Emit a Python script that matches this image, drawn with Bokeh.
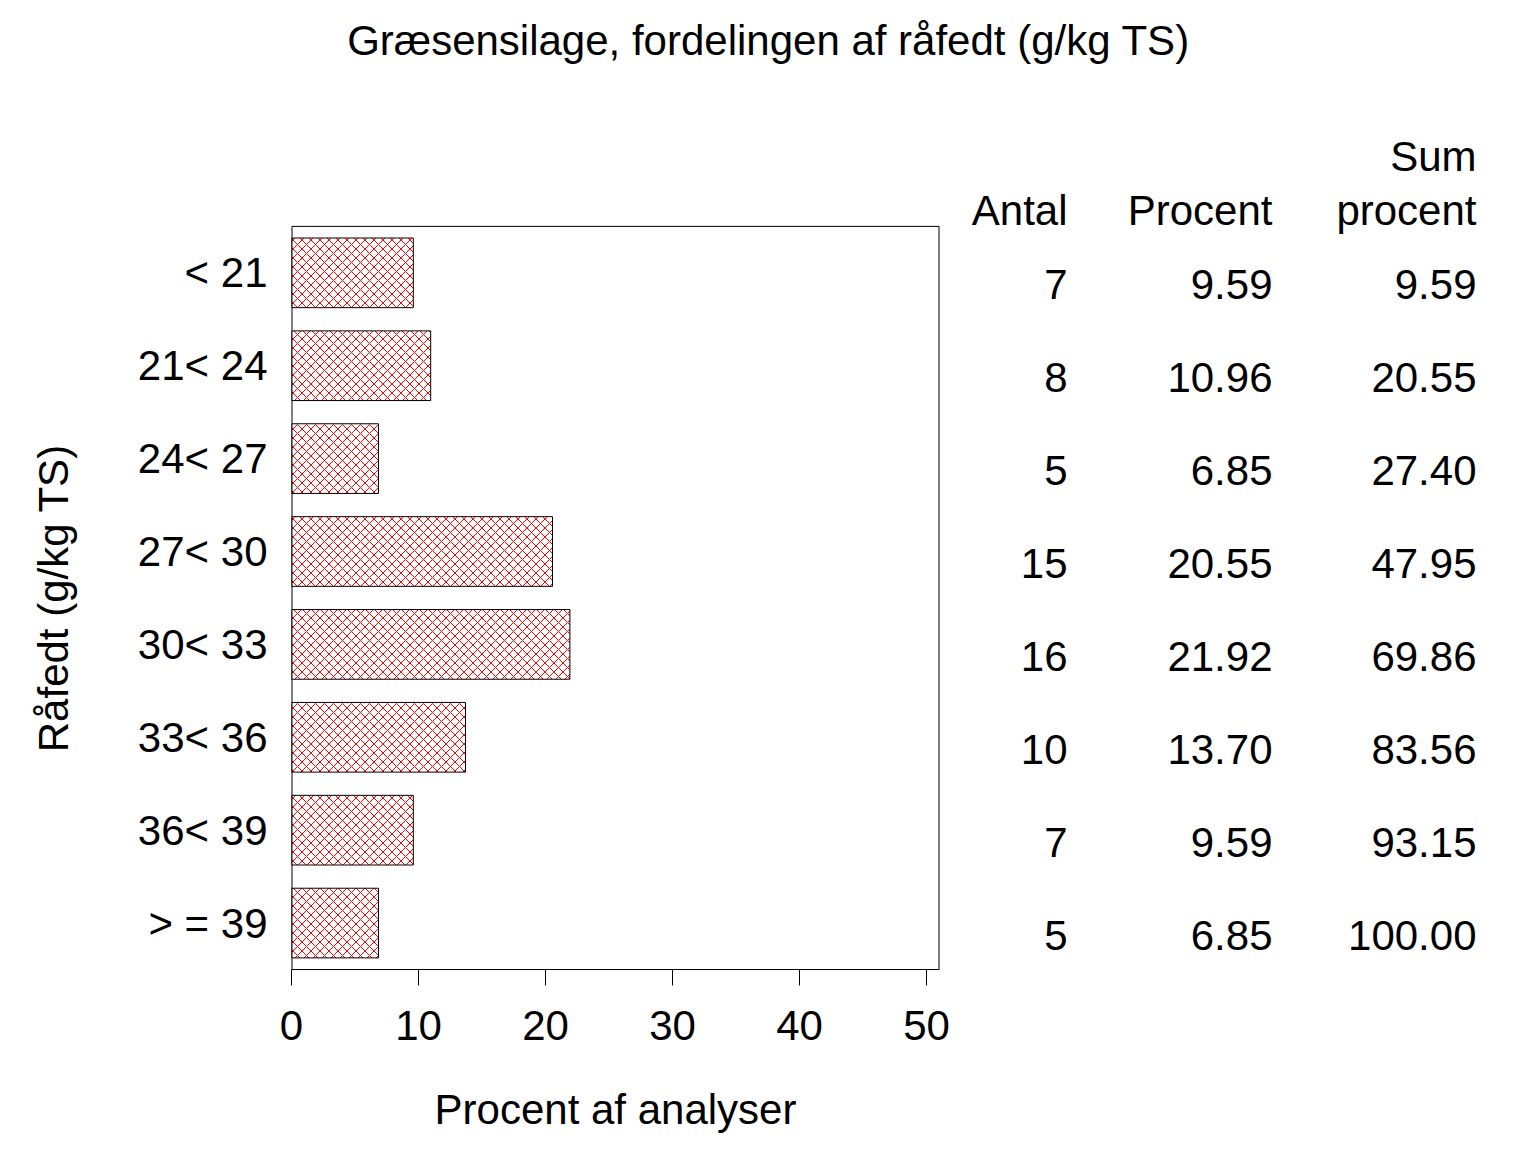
from bokeh.plotting import figure
from bokeh.layouts import column, row
from bokeh.models import FactorRange, Range1d, FixedTicker, ColumnDataSource
from bokeh.core.properties import value
from bokeh.embed import file_html
from bokeh.resources import INLINE

# ---- data ----
categories = ["< 21", "21< 24", "24< 27", "27< 30", "30< 33", "33< 36", "36< 39", "> = 39"]
antal = [7, 8, 5, 15, 16, 10, 7, 5]
procent = [9.59, 10.96, 6.85, 20.55, 21.92, 13.70, 9.59, 6.85]
sum_procent = [9.59, 20.55, 27.40, 47.95, 69.86, 83.56, 93.15, 100.00]
x_ticks = [0, 10, 20, 30, 40, 50]
header_line1 = ["", "", "Sum"]
header_line2 = ["Antal", "Procent", "procent"]
title_text = "Græsensilage, fordelingen af råfedt (g/kg TS)"
y_label = "Råfedt (g/kg TS)"

FONT = "Liberation Sans"
FS = "42px"

# ---- layout constants (pixels) ----
W_TOTAL = 1530
H_TITLE = 100
H_MAIN = 1050
W_A = 960
W_B = W_TOTAL - W_A
FR_LEFT, FR_RIGHT = 291, 939          # bar frame, page x
FR_BOTTOM = 969                       # bar frame bottom, page y
n = len(categories)
X_MAX = 51.02
ROW_PX = 92.9
FR_TOP = FR_BOTTOM - (n + 1) * ROW_PX   # frame incl. one header band

# ---- title strip ----
t = figure(width=W_TOTAL, height=H_TITLE, x_range=Range1d(0, W_TOTAL),
           y_range=Range1d(0, H_TITLE), output_backend="svg",
           toolbar_location=None, x_axis_location=None, y_axis_location=None,
           min_border_left=0, min_border_right=0, min_border_top=0,
           min_border_bottom=0)
t.outline_line_color = None
t.xgrid.visible = False
t.ygrid.visible = False
t.text(x=[768], y=[H_TITLE - 40], text=[title_text], text_font=value(FONT),
       text_font_size=FS, text_align="center", text_baseline="middle",
       text_color="black")

# ---- bar chart ----
a = figure(width=W_A, height=H_MAIN,
           y_range=FactorRange(factors=categories[::-1] + [""]),
           x_range=Range1d(0, X_MAX),
           output_backend="svg", toolbar_location=None,
           min_border_left=FR_LEFT, min_border_right=W_A - FR_RIGHT,
           min_border_top=int(round(FR_TOP)) - H_TITLE,
           min_border_bottom=H_TITLE + H_MAIN - FR_BOTTOM)
a.outline_line_color = None
a.xgrid.visible = False
a.ygrid.visible = False

src = ColumnDataSource(dict(cat=categories, pct=procent))
a.hbar(y="cat", right="pct", left=0, height=0.75, source=src,
       fill_color="white", line_color="black", line_width=1,
       hatch_pattern="diagonal_cross", hatch_color="red",
       hatch_scale=9, hatch_weight=1)

# box around the bar area (bottom edge is the x axis line)
a.segment(x0=[0, X_MAX], y0=[0, 0], x1=[0, X_MAX], y1=[n, n],
          line_color="black", line_width=2)
a.segment(x0=[0], y0=[n], x1=[X_MAX], y1=[n], line_color="black", line_width=1)

xa = a.xaxis[0]
xa.ticker = FixedTicker(ticks=x_ticks)
xa.minor_tick_line_color = None
xa.major_tick_out = 16
xa.major_tick_in = 0
xa.major_tick_line_color = "black"
xa.major_label_text_font = FONT
xa.major_label_text_font_size = FS
xa.major_label_text_color = "black"
xa.major_label_standoff = 25
xa.axis_label = "Procent af analyser"
xa.axis_label_text_font = FONT
xa.axis_label_text_font_size = FS
xa.axis_label_text_font_style = "normal"
xa.axis_label_text_color = "black"
xa.axis_label_standoff = 43
xa.axis_line_color = "black"

ya = a.yaxis[0]
ya.axis_line_color = None
ya.major_tick_line_color = None
ya.minor_tick_line_color = None
ya.major_tick_out = 0
ya.major_tick_in = 0
ya.major_label_standoff = 24
ya.major_label_text_font = FONT
ya.major_label_text_font_size = FS
ya.major_label_text_color = "black"
# trailing no-break spaces centre the label on the bar area, not the whole frame
ya.axis_label = y_label + "\u00a0" * 8
ya.axis_label_text_font = FONT
ya.axis_label_text_font_size = FS
ya.axis_label_text_font_style = "normal"
ya.axis_label_text_color = "black"
ya.axis_label_standoff = 58

# ---- table (frame aligned with the bar chart frame) ----
b = figure(width=W_B, height=H_MAIN, x_range=Range1d(0, W_B),
           y_range=Range1d(0, n + 1),
           output_backend="svg", toolbar_location=None,
           x_axis_location=None, y_axis_location=None,
           min_border_left=0, min_border_right=0,
           min_border_top=int(round(FR_TOP)) - H_TITLE,
           min_border_bottom=H_TITLE + H_MAIN - FR_BOTTOM)
b.outline_line_color = None
b.xgrid.visible = False
b.ygrid.visible = False

col_x = [1067 - W_A, 1272 - W_A, 1476 - W_A]
row_y = [n - 0.5 - i - 12 / ROW_PX for i in range(n)]
columns = [[str(v) for v in antal],
           ["%.2f" % v for v in procent],
           ["%.2f" % v for v in sum_procent]]
for cx, texts in zip(col_x, columns):
    b.text(x=[cx] * n, y=row_y, text=texts, text_font=value(FONT),
           text_font_size=FS, text_align="right", text_baseline="middle",
           text_color="black")

hy2 = (FR_BOTTOM - 210) / ROW_PX
hy1 = (FR_BOTTOM - 156) / ROW_PX
b.text(x=col_x, y=[hy2] * 3, text=header_line2, text_font=value(FONT),
       text_font_size=FS, text_align="right", text_baseline="middle",
       text_color="black")
b.text(x=col_x, y=[hy1] * 3, text=header_line1, text_font=value(FONT),
       text_font_size=FS, text_align="right", text_baseline="middle",
       text_color="black")

layout = column(t, row(a, b))
open("out.html", "w").write(file_html(layout, INLINE))
